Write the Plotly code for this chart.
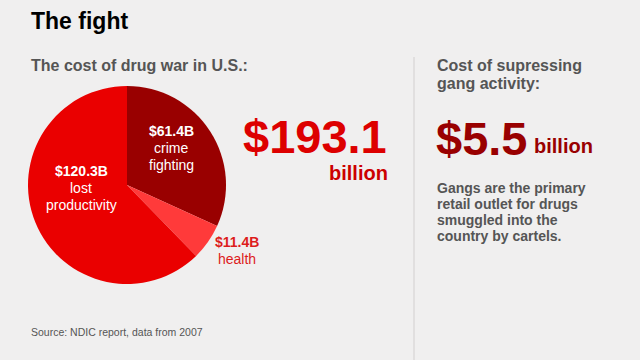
import plotly.graph_objects as go

# Data
labels = ["crime fighting", "health", "lost productivity"]
label_lines = [["crime", "fighting"], ["health"], ["lost", "productivity"]]
values = [61.4, 11.4, 120.3]
total_value = 193.1
gang_value = 5.5
gang_title = ["Cost of supressing", "gang activity:"]
gang_text = ["Gangs are the primary", "retail outlet for drugs", "smuggled into the", "country by cartels."]

colors = ["#990000", "#ff3a3a", "#ea0000"]
FONT = "Arial, Liberation Sans, Helvetica, sans-serif"

fig = go.Figure()
fig.add_trace(go.Pie(
    labels=labels, values=values, sort=False, direction="clockwise",
    rotation=0, marker=dict(colors=colors, line=dict(width=0)),
    textinfo="none", hoverinfo="label+value", showlegend=False,
    domain=dict(x=[28/640, 226/640], y=[76/360, 274/360]),
))

def px_x(x):
    return x / 640

def px_y(y):
    return 1 - y / 360

ann = []
def add(text, x, y, size, color, xanchor="left", yanchor="middle", bold=False, align="left"):
    t = f"<b>{text}</b>" if bold else text
    ann.append(dict(text=t, x=px_x(x), y=px_y(y), xref="paper", yref="paper",
                    xanchor=xanchor, yanchor=yanchor, showarrow=False, align=align,
                    font=dict(family=FONT, size=size, color=color)))

add("The fight", 29, 21, 23, "#000000", bold=True)
add("The cost of drug war in U.S.:", 29, 65, 16, "#555555", bold=True)

# pie labels
pie_label_pos = [(171, 131, "#ffffff"), (237, 242, "#dd1c1c"), (81, 171, "#ffffff")]
for v, lines, (x, y, c) in zip(values, label_lines, pie_label_pos):
    add(f"${v}B", x, y, 14, c, xanchor="center", bold=True)
    for i, ln in enumerate(lines):
        add(ln, x, y + 17 * (i + 1), 14, c, xanchor="center")

add(f"${total_value}", 241, 136, 47, "#dd0000", bold=True)
add("billion", 390, 173, 20, "#cc0000", xanchor="right", bold=True)

for i, ln in enumerate(gang_title):
    add(ln, 435, 65 + 18 * i, 16, "#555555", bold=True)
add(f"${gang_value}", 434, 138, 47, "#990000", bold=True)
add("billion", 532, 146, 20, "#990000", bold=True)
for i, ln in enumerate(gang_text):
    add(ln, 435, 188 + 16 * i, 14, "#555555", bold=True)

add("Source: NDIC report, data from 2007", 29, 332, 10.5, "#555555")

fig.update_layout(
    width=640, height=360, margin=dict(l=0, r=0, t=0, b=0),
    paper_bgcolor="#f0efef", plot_bgcolor="#f0efef",
    annotations=ann,
    shapes=[dict(type="line", xref="paper", yref="paper", x0=px_x(414), x1=px_x(414),
                 y0=px_y(57), y1=0, line=dict(color="#dddada", width=1.5))],
)
fig.write_html("out.html", config={"displayModeBar": False},
               post_script="document.body.style.margin='0';document.body.style.padding='0';document.body.style.background='#f0efef';")
